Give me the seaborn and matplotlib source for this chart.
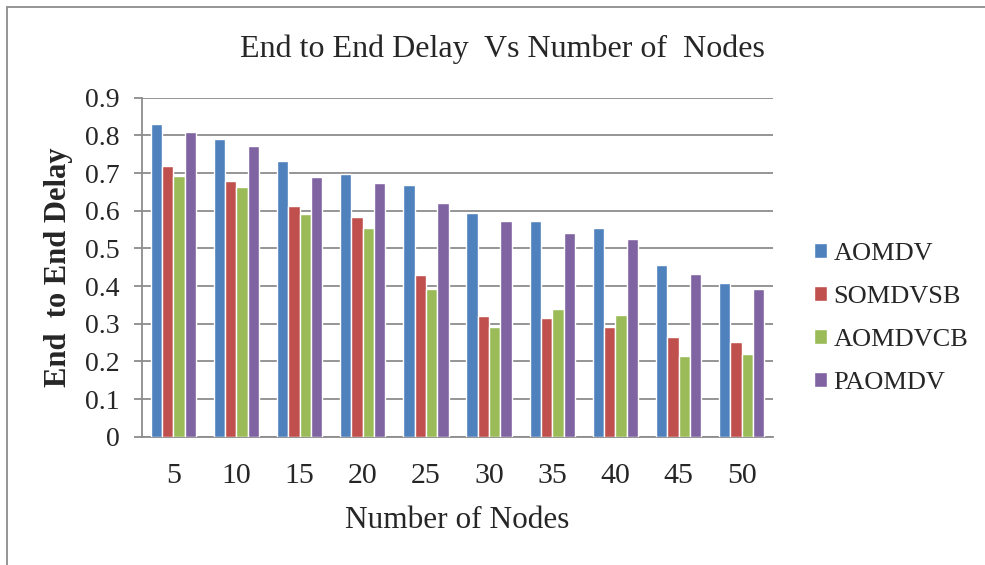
import numpy as np
import pandas as pd
import matplotlib
matplotlib.use('Agg')
import matplotlib.pyplot as plt
from matplotlib.patches import Rectangle
from matplotlib.ticker import FixedLocator, FuncFormatter
import seaborn as sns

nodes = [5, 10, 15, 20, 25, 30, 35, 40, 45, 50]
series = ['AOMDV', 'SOMDVSB', 'AOMDVCB', 'PAOMDV']
aomdv = [0.831, 0.790, 0.733, 0.698, 0.668, 0.593, 0.573, 0.554, 0.457, 0.407]
somdvsb = [0.720, 0.680, 0.613, 0.583, 0.428, 0.321, 0.314, 0.291, 0.264, 0.251]
aomdvcb = [0.691, 0.662, 0.590, 0.554, 0.391, 0.290, 0.340, 0.323, 0.213, 0.219]
paomdv = [0.810, 0.771, 0.689, 0.673, 0.620, 0.573, 0.540, 0.524, 0.432, 0.393]
colors = ['#4F81BD', '#C0504D', '#9BBB59', '#8064A2']

df = pd.DataFrame({
    'nodes': nodes * 4,
    'delay': aomdv + somdvsb + aomdvcb + paomdv,
    'series': [s for s in series for _ in nodes],
})

sns.set_style('white')
plt.rcParams['font.family'] = ['Liberation Serif', 'DejaVu Serif']

fig = plt.figure(figsize=(9.85, 5.65), dpi=100)
ax = fig.add_axes([141.7 / 985, 1 - 436.7 / 565, 631.6 / 985, 339.0 / 565])

sns.barplot(data=df, x='nodes', y='delay', hue='series', hue_order=series,
            palette=colors, width=0.72, saturation=1, ax=ax, zorder=3)

ax.set_xlim(-0.5, 9.5)
ax.set_ylim(0, 0.9)
ax.yaxis.set_major_locator(FixedLocator(np.arange(0, 0.91, 0.1)))
ax.yaxis.set_major_formatter(FuncFormatter(lambda v, p: '0' if abs(v) < 1e-9 else f'{v:.1f}'))
ax.grid(axis='y', color='#8c8c8c', lw=1.3, zorder=0)
ax.set_axisbelow(True)

for s in ['top', 'right']:
    ax.spines[s].set_visible(False)
for s in ['left', 'bottom']:
    ax.spines[s].set_color('#8c8c8c')
    ax.spines[s].set_linewidth(1.3)

ax.xaxis.set_minor_locator(FixedLocator(np.arange(-0.5, 10, 1)))
ax.tick_params(axis='x', which='major', length=0, pad=19, labelsize=21.5)
ax.tick_params(axis='x', which='minor', length=7, width=1.3, color='#8c8c8c', direction='out')
ax.tick_params(axis='y', length=6, width=1.3, color='#8c8c8c', direction='out', pad=10, labelsize=20, left=True)

ax.set_xlabel('Number of Nodes', fontsize=22.5)
ax.xaxis.set_label_coords(0.5, -0.205)
ax.set_ylabel('End  to End Delay', fontsize=22, fontweight='bold')
ax.yaxis.set_label_coords(-0.109, 0.5)

fig.text(502 / 985, 1 - 57.3 / 565, 'End to End Delay  Vs Number of  Nodes', fontsize=23,
         ha='center', va='baseline')

handles, labels = ax.get_legend_handles_labels()
ax.legend(handles, labels, loc='center left', bbox_to_anchor=(790 / 985, 1 - 318.6 / 565),
          bbox_transform=fig.transFigure, frameon=False, fontsize=19,
          handlelength=0.5, handleheight=0.5, handletextpad=0.25, labelspacing=0.8)

fig.add_artist(Rectangle((7 / 985, -0.1), 1.2, 1 - 7 / 565 + 0.1, transform=fig.transFigure,
                         fill=False, edgecolor='#8c8c8c', lw=1.3))

fig.savefig('out.png', dpi=100)
